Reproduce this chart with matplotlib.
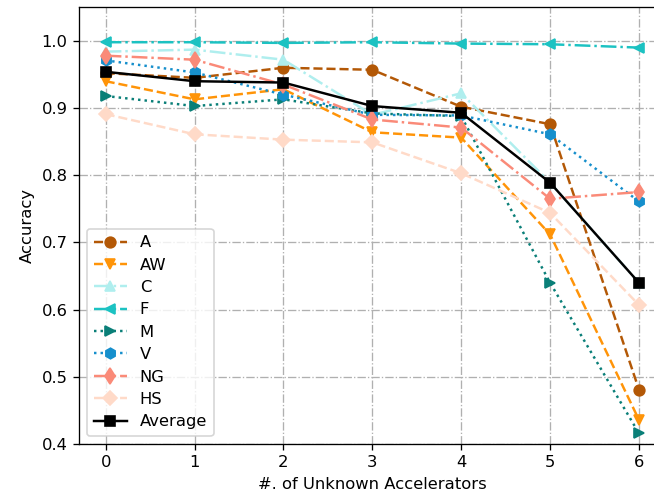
import matplotlib
matplotlib.use("Agg")
import matplotlib.pyplot as plt

# number of unknown accelerators
unknown = [0, 1, 2, 3, 4, 5, 6]

acc_A = [0.952, 0.945, 0.960, 0.957, 0.902, 0.876, 0.481]
acc_AW = [0.940, 0.913, 0.928, 0.864, 0.856, 0.712, 0.436]
acc_C = [0.984, 0.987, 0.972, 0.890, 0.922, 0.789, 0.640]
acc_F = [0.998, 0.998, 0.997, 0.998, 0.996, 0.995, 0.990]
acc_M = [0.918, 0.903, 0.913, 0.892, 0.888, 0.640, 0.416]
acc_V = [0.971, 0.953, 0.920, 0.890, 0.889, 0.861, 0.761]
acc_NG = [0.978, 0.972, 0.935, 0.883, 0.871, 0.765, 0.775]
acc_HS = [0.891, 0.861, 0.853, 0.849, 0.803, 0.744, 0.607]
acc_avg = [0.954, 0.940, 0.938, 0.903, 0.893, 0.789, 0.640]

series = [
    ('A', acc_A, '#b35806', 'o', '--', 6.5),
    ('AW', acc_AW, '#ff9408', 'v', '--', 6.5),
    ('C', acc_C, '#afeeee', '^', '-.', 6.5),
    ('F', acc_F, '#1cc2c2', '<', '-.', 6.5),
    ('M', acc_M, '#0a7f78', '>', ':', 6.5),
    ('V', acc_V, '#168fcc', 'h', ':', 6.5),
    ('NG', acc_NG, '#fa8a78', 'd', '-.', 6.5),
    ('HS', acc_HS, '#ffdac8', 'D', '--', 6),
    ('Average', acc_avg, 'black', 's', '-', 6),
]

DPI = 118
fig = plt.figure(figsize=(654 / DPI, 496 / DPI), dpi=DPI)
ax = fig.add_axes([79/654, 1 - 444/496, 586.6/654, 436.7/496])

for name, vals, col, mk, ls, ms in series:
    ax.plot(unknown, vals, linestyle=ls, marker=mk, color=col,
            markersize=ms, linewidth=1.5, label=name)

ax.set_xlim(-0.3, 6.3)
ax.set_ylim(0.4, 1.05)
ax.grid(True, linestyle='-.', color='#b0b0b0')
ax.set_axisbelow(True)

ax.set_xlabel('#. of Unknown Accelerators')
ax.set_ylabel('Accuracy')
ax.legend(loc='lower left', labelspacing=0.45)

fig.savefig('out.png', dpi=DPI)
